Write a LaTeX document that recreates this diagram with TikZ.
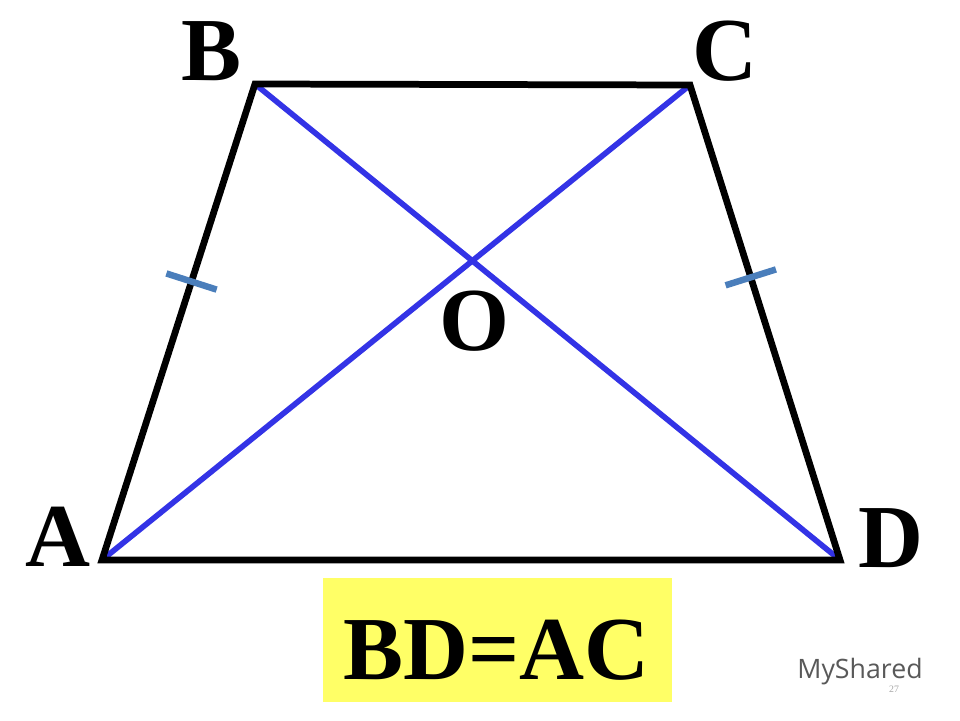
\documentclass[tikz,border=0pt]{standalone}
\usepackage{fontspec}
\setmainfont{Liberation Serif}
\newfontfamily\wmfont{Open Sans}
\usetikzlibrary{calc,positioning}
\definecolor{diagblue}{RGB}{51,51,230}
\definecolor{tickblue}{RGB}{74,126,187}
\definecolor{boxyellow}{RGB}{255,255,102}
\tikzset{every node/.append style={inner sep=0pt}}
\tikzset{vlabel/.style={font=\fontsize{64}{64}\selectfont\bfseries}}
\tikzset{side/.style={line width=4.8pt,line join=miter}}
\tikzset{diag/.style={diagblue,line width=4pt}}
\tikzset{tickmark/.style={tickblue,line width=4.6pt}}

\begin{document}
\begin{tikzpicture}
\useasboundingbox (0,0) rectangle (24,18);
\coordinate (A) at (2.55,4);
\coordinate (B) at (6.375,15.9);
\coordinate (C) at (17.25,15.875);
\coordinate (D) at (21,4);
%  diagonals first, sides on top
\draw[diag] (A)--(C);
\draw[diag] (B)--(D);
\draw[side] (A)--(B)--(C)--(D)--cycle;
% equal legs
\coordinate (tAB) at ($(A)!0.585!(B)$);
\coordinate (tCD) at ($(D)!0.595!(C)$);
\draw[tickmark] ($(tAB)!0.66cm!90:(B)$)--($(tAB)!0.66cm!-90:(B)$);
\draw[tickmark] ($(tCD)!0.66cm!90:(C)$)--($(tCD)!0.66cm!-90:(C)$);
\node[vlabel] (lA) at (1.45,4.57) {A};
\node[vlabel] (lB) at (5.3,16.72) {B};
\node[vlabel] (lC) at (18.12,16.72) {C};
\node[vlabel] (lD) at (22.27,4.55) {D};
\node[vlabel] (lO) at (11.87,9.97) {O};
\fill[boxyellow] (8.07,0.45) rectangle (16.8,3.55);
\node[vlabel] (eq) at (12.42,1.75) {BD=AC};
\node[black!65,font=\wmfont\fontsize{19}{19}\selectfont] (wm) at (21.5,1.2) {MyShared};
\node[gray!70,font=\fontsize{7}{7}\selectfont] (pg) at (22.35,0.78) {27};
\end{tikzpicture}
\end{document}
